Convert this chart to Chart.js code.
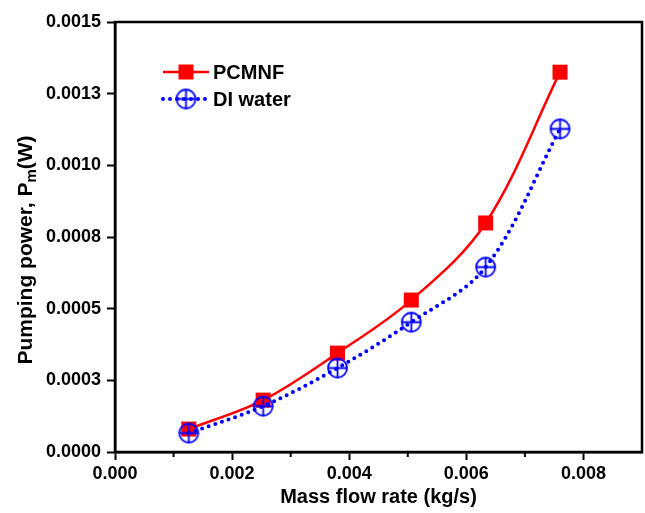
<!DOCTYPE html>
<html>
<head>
<meta charset="utf-8">
<script src="https://cdn.jsdelivr.net/npm/chart.js@4.4.0/dist/chart.umd.min.js"></script>
<style>
html, body { margin: 0; padding: 0; background: #fff; }
#wrap { width: 645px; height: 513px; }
</style>
</head>
<body>
<div id="wrap"><canvas id="pumpChart" width="645" height="513"></canvas></div>
<script>
var flowRates = [0.00126, 0.00253, 0.0038, 0.00506, 0.00633, 0.0076];
var pcmnfPower = [0.000080, 0.000181, 0.000345, 0.000530, 0.000799, 0.001325];
var waterPower = [0.000066, 0.000160, 0.000293, 0.000453, 0.000645, 0.001127];
var seriesNames = ["PCMNF", "DI water"];

var xTickValues = [0, 0.002, 0.004, 0.006, 0.008];
var xTickLabels = ["0.000", "0.002", "0.004", "0.006", "0.008"];
var xMinorTicks = [0.001, 0.003, 0.005, 0.007];
var yTickValues = [0, 0.00025, 0.0005, 0.00075, 0.001, 0.00125, 0.0015];
var yTickLabels = ["0.0000", "0.0003", "0.0005", "0.0008", "0.0010", "0.0013", "0.0015"];

var fontFamily = '"Liberation Sans", Arial, sans-serif';

// hollow circle with a cross, the DI water marker
function makeCrossCircle(r, color) {
	var c = document.createElement("canvas");
	var s = Math.ceil(2 * r + 4);
	c.width = s;
	c.height = s;
	var ctx = c.getContext("2d");
	ctx.strokeStyle = color;
	ctx.lineWidth = 1.8;
	ctx.beginPath();
	ctx.arc(s / 2, s / 2, r, 0, 2 * Math.PI);
	ctx.moveTo(s / 2 - r, s / 2);
	ctx.lineTo(s / 2 + r, s / 2);
	ctx.moveTo(s / 2, s / 2 - r);
	ctx.lineTo(s / 2, s / 2 + r);
	ctx.stroke();
	return c;
}
var crossCircle = makeCrossCircle(9.5, "#0000ff");

function toPoints(xs, ys) {
	return xs.map(function (x, i) { return { x: x, y: ys[i] }; });
}

var framePlugin = {
	id: "frameAndTitles",
	afterDraw: function (chart) {
		var ctx = chart.ctx, a = chart.chartArea;
		var xs = chart.scales.x;
		ctx.save();
		// minor ticks on x
		ctx.strokeStyle = "#000";
		ctx.lineWidth = 2;
		xMinorTicks.forEach(function (v) {
			var px = xs.getPixelForValue(v);
			ctx.beginPath();
			ctx.moveTo(px, a.bottom);
			ctx.lineTo(px, a.bottom + 5);
			ctx.stroke();
		});
		// frame
		ctx.lineWidth = 2.5;
		ctx.strokeRect(a.left, a.top, a.right - a.left, a.bottom - a.top);

		// x title
		ctx.fillStyle = "#000";
		ctx.font = "bold 20px " + fontFamily;
		ctx.textAlign = "center";
		ctx.textBaseline = "middle";
		ctx.fillText("Mass flow rate (kg/s)", (a.left + a.right) / 2, 497);

		// y title with subscript
		ctx.translate(26, 250);
		ctx.rotate(-Math.PI / 2);
		ctx.textAlign = "left";
		var part1 = "Pumping power, P", sub = "m", part3 = "(W)";
		ctx.font = "bold 21px " + fontFamily;
		var w1 = ctx.measureText(part1).width, w3 = ctx.measureText(part3).width;
		ctx.font = "bold 15px " + fontFamily;
		var w2 = ctx.measureText(sub).width;
		var sx = -(w1 + w2 + w3) / 2;
		ctx.font = "bold 21px " + fontFamily;
		ctx.fillText(part1, sx, 0);
		ctx.fillText(part3, sx + w1 + w2, 0);
		ctx.font = "bold 15px " + fontFamily;
		ctx.fillText(sub, sx + w1, 6);
		ctx.restore();

		// legend
		drawLegend(chart);
	}
};

function drawLegend(chart) {
	var ctx = chart.ctx, a = chart.chartArea;
	var x0 = a.left + 48, x1 = a.left + 94, xm = a.left + 71, xt = a.left + 98;
	var rows = [a.top + 50, a.top + 77];
	ctx.save();
	chart.data.datasets.forEach(function (ds, i) {
		var y = rows[i];
		ctx.strokeStyle = ds.borderColor;
		ctx.lineWidth = ds.borderWidth;
		ctx.lineCap = ds.borderCapStyle || "butt";
		ctx.setLineDash(ds.borderDash || []);
		ctx.beginPath();
		ctx.moveTo(x0, y);
		ctx.lineTo(x1, y);
		ctx.stroke();
		ctx.setLineDash([]);
		if (ds.pointStyle === "rect") {
			ctx.fillStyle = ds.pointBackgroundColor;
			ctx.fillRect(xm - 7.5, y - 7.5, 15, 15);
		} else {
			ctx.drawImage(ds.pointStyle, xm - ds.pointStyle.width / 2, y - ds.pointStyle.height / 2);
		}
		ctx.fillStyle = "#000";
		ctx.font = "bold 20px " + fontFamily;
		ctx.textAlign = "left";
		ctx.textBaseline = "middle";
		ctx.fillText(ds.label, xt, y + 1);
	});
	ctx.restore();
}

new Chart(document.getElementById("pumpChart"), {
	type: "line",
	data: {
		datasets: [{
			label: seriesNames[0],
			data: toPoints(flowRates, pcmnfPower),
			borderColor: "#ff0000",
			backgroundColor: "#ff0000",
			borderWidth: 2.5,
			tension: 0.35,
			pointStyle: "rect",
			pointRadius: 10.6,
			pointBackgroundColor: "#ff0000",
			pointBorderWidth: 0,
			order: 2
		}, {
			label: seriesNames[1],
			data: toPoints(flowRates, waterPower),
			borderColor: "#0000ff",
			backgroundColor: "#0000ff",
			borderWidth: 4,
			borderDash: [0, 7],
			borderCapStyle: "round",
			tension: 0.35,
			pointStyle: crossCircle,
			order: 1
		}]
	},
	options: {
		responsive: false,
		devicePixelRatio: 1,
		animation: false,
		layout: { autoPadding: false, padding: { top: 22, right: 3, left: 0, bottom: 0 } },
		plugins: {
			legend: { display: false },
			tooltip: { enabled: false }
		},
		scales: {
			x: {
				type: "linear",
				min: 0,
				max: 0.009,
				afterBuildTicks: function (scale) {
					scale.ticks = xTickValues.map(function (v) { return { value: v }; });
				},
				afterFit: function (scale) {
					scale.height = 61;
					scale.paddingLeft = 0;
					scale.paddingRight = 0;
				},
				ticks: {
					autoSkip: false,
					maxRotation: 0,
					color: "#000",
					padding: 3,
					font: { family: fontFamily, size: 18, weight: "bold" },
					callback: function (v, i) { return xTickLabels[i]; }
				},
				grid: {
					drawOnChartArea: false,
					drawTicks: true,
					tickLength: 8,
					tickWidth: 2,
					tickColor: "#000"
				},
				border: { color: "#000", width: 2.5 }
			},
			y: {
				type: "linear",
				min: 0,
				max: 0.0015,
				afterBuildTicks: function (scale) {
					scale.ticks = yTickValues.map(function (v) { return { value: v }; });
				},
				afterFit: function (scale) {
					scale.width = 115;
					scale.paddingTop = 0;
					scale.paddingBottom = 0;
				},
				ticks: {
					autoSkip: false,
					color: "#000",
					padding: 6,
					font: { family: fontFamily, size: 18, weight: "bold" },
					callback: function (v, i) { return yTickLabels[i]; }
				},
				grid: {
					drawOnChartArea: false,
					drawTicks: true,
					tickLength: 8,
					tickWidth: 2,
					tickColor: "#000"
				},
				border: { color: "#000", width: 2.5 }
			}
		}
	},
	plugins: [framePlugin]
});
</script>
</body>
</html>
